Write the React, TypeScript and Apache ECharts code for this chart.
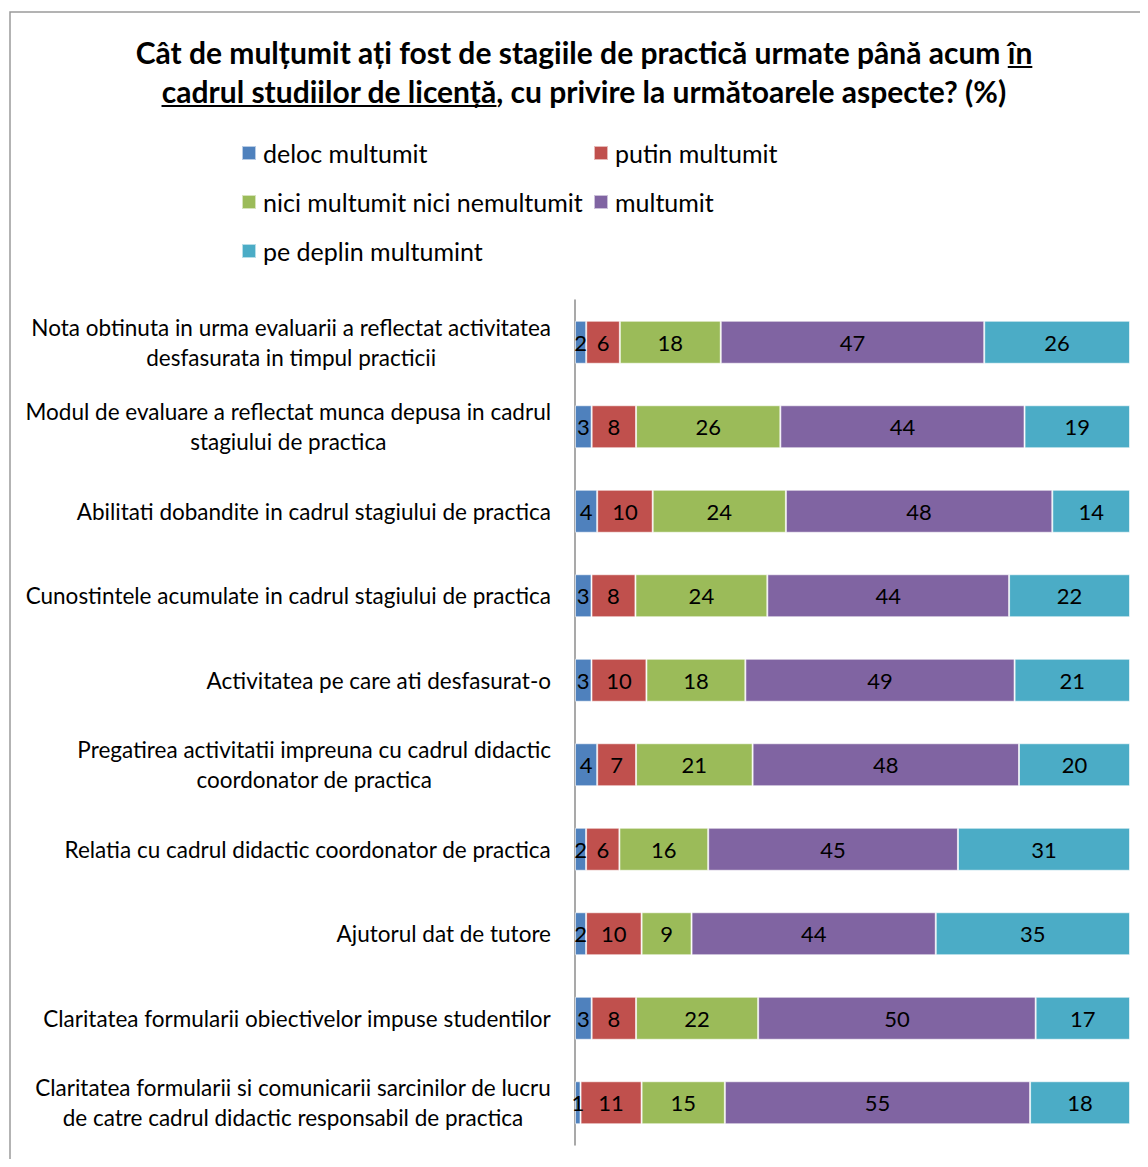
import React, { useEffect, useRef } from "react";
import * as echarts from "echarts";

const categories = [
  "Nota obtinuta in urma evaluarii a reflectat activitatea\ndesfasurata in timpul practicii",
  "Modul de evaluare a reflectat munca depusa in cadrul\nstagiului de practica",
  "Abilitati dobandite in cadrul stagiului de practica",
  "Cunostintele acumulate in cadrul stagiului de practica",
  "Activitatea pe care ati desfasurat-o",
  "Pregatirea activitatii impreuna cu cadrul didactic\ncoordonator de practica",
  "Relatia cu cadrul didactic coordonator de practica",
  "Ajutorul dat de tutore",
  "Claritatea formularii obiectivelor impuse studentilor",
  "Claritatea formularii si comunicarii sarcinilor de lucru\nde catre cadrul didactic responsabil de practica",
];

const seriesNames = [
  "deloc multumit",
  "putin multumit",
  "nici multumit nici nemultumit",
  "multumit",
  "pe deplin multumint",
];

const delocMultumit = [2, 3, 4, 3, 3, 4, 2, 2, 3, 1];
const putinMultumit = [6, 8, 10, 8, 10, 7, 6, 10, 8, 11];
const niciMultumit = [18, 26, 24, 24, 18, 21, 16, 9, 22, 15];
const multumit = [47, 44, 48, 44, 49, 48, 45, 44, 50, 55];
const peDeplinMultumit = [26, 19, 14, 22, 21, 20, 31, 35, 17, 18];

const seriesColors = ["#4F81BD", "#C0504D", "#9BBB59", "#8064A2", "#4BACC6"];

const titleLine1Plain = "Cât de mulțumit ați fost de stagiile de practică urmate până acum ";
const titleLine1Under = "în";
const titleLine2Under = "cadrul studiilor de licență";
const titleLine2Plain = ", cu privire la următoarele aspecte? (%)";

const FONT = "Lato, 'Open Sans', sans-serif";

function measure(text: string, font: string): number {
  const c = document.createElement("canvas");
  const ctx = c.getContext("2d");
  if (!ctx) return text.length * 14;
  ctx.font = font;
  return ctx.measureText(text).width;
}

export default function App() {
  const ref = useRef<HTMLDivElement>(null);
  useEffect(() => {
    if (!ref.current) return;
    const chart = echarts.init(ref.current, undefined, { renderer: "svg" });
    const allSeries = [delocMultumit, putinMultumit, niciMultumit, multumit, peDeplinMultumit];
    const totals = categories.map((_, i) => allSeries.reduce((s, arr) => s + arr[i], 0));

    const titleSize = 30;
    const titleFont = `bold ${titleSize}px Lato`;
    const cx = 576;
    const y1 = 44;
    const y2 = 83;
    const w1 = measure(titleLine1Plain + titleLine1Under, titleFont);
    const w1p = measure(titleLine1Plain, titleFont);
    const w2 = measure(titleLine2Under + titleLine2Plain, titleFont);
    const w2u = measure(titleLine2Under, titleFont);
    const l1 = cx - w1 / 2;
    const l2 = cx - w2 / 2;

    const legendText = { fontSize: 25, fontFamily: FONT, color: "#000", lineHeight: 28, padding: [0, 0, 0, 2] };

    const option: any = {
      animation: false,
      backgroundColor: "#ffffff",
      textStyle: { fontFamily: FONT },
      graphic: [
        {
          type: "rect",
          shape: { x: 2, y: 4, width: 1200, height: 1300 },
          style: { fill: "none", stroke: "#9a9a9a", lineWidth: 1.5 },
          silent: true,
          z: -1,
        },
        {
          type: "text",
          x: cx,
          y: y1,
          style: {
            text: titleLine1Plain + titleLine1Under,
            font: titleFont,
            fill: "#000",
            textAlign: "center",
            textVerticalAlign: "middle",
          },
        },
        {
          type: "text",
          x: cx,
          y: y2,
          style: {
            text: titleLine2Under + titleLine2Plain,
            font: titleFont,
            fill: "#000",
            textAlign: "center",
            textVerticalAlign: "middle",
          },
        },
        {
          type: "line",
          shape: { x1: l1 + w1p, y1: y1 + 15, x2: l1 + w1, y2: y1 + 15 },
          style: { stroke: "#000", lineWidth: 2 },
        },
        {
          type: "line",
          shape: { x1: l2, y1: y2 + 15, x2: l2 + w2u, y2: y2 + 15 },
          style: { stroke: "#000", lineWidth: 2 },
        },
      ],
      legend: [
        {
          orient: "vertical",
          left: 233,
          top: 131,
          padding: 0,
          itemGap: 21,
          itemWidth: 14,
          itemHeight: 14,
          icon: "rect",
          data: [seriesNames[0], seriesNames[2], seriesNames[4]],
          textStyle: legendText,
        },
        {
          orient: "vertical",
          left: 585,
          top: 131,
          padding: 0,
          itemGap: 21,
          itemWidth: 14,
          itemHeight: 14,
          icon: "rect",
          data: [seriesNames[1], seriesNames[3]],
          textStyle: legendText,
        },
      ],
      grid: { left: 567, right: 18, top: 292, bottom: 14, containLabel: false },
      xAxis: {
        type: "value",
        min: 0,
        max: 100,
        show: false,
      },
      yAxis: {
        type: "category",
        inverse: true,
        data: categories,
        axisLine: { show: true, lineStyle: { color: "#8c8c8c", width: 1.5 } },
        axisTick: { show: false },
        splitLine: { show: false },
        axisLabel: {
          margin: 24,
          align: "right",
          formatter: (v: string) => v.split("\n").map((l) => `{c|${l}}`).join("\n"),
          rich: {
            c: { align: "center", fontSize: 22.5, fontFamily: FONT, color: "#000", lineHeight: 30 },
          },
        },
      },
      series: allSeries.map((arr, si) => ({
        name: seriesNames[si],
        type: "bar",
        stack: "total",
        barWidth: 43,
        itemStyle: { color: seriesColors[si], borderColor: "rgba(255,255,255,0.6)", borderWidth: 1 },
        label: {
          show: true,
          position: "inside",
          color: "#000",
          fontSize: 22,
          fontFamily: FONT,
          formatter: (p: any) => String(arr[p.dataIndex]),
        },
        data: arr.map((v, i) => (v / totals[i]) * 100),
      })),
    };
    chart.setOption(option);
    return () => chart.dispose();
  }, []);
  return <div ref={ref} style={{ width: 1140, height: 1151 }} />;
}
